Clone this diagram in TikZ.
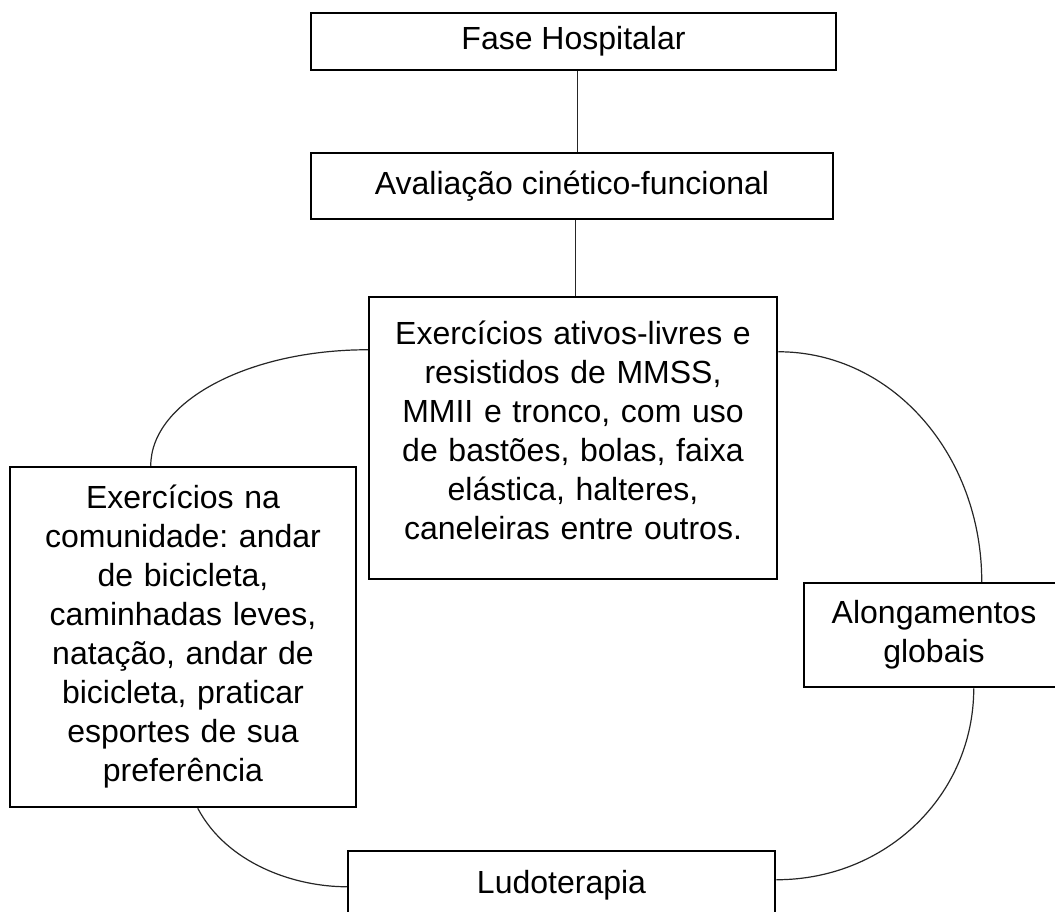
\documentclass[tikz,border=0pt]{standalone}
\usepackage{fontspec}
\setmainfont{Liberation Sans}
\usetikzlibrary{calc}
\frenchspacing
\begin{document}
\begin{tikzpicture}[x=0.5pt,y=-0.5pt,
  box/.style={draw=black,line width=1.25pt,rectangle,inner sep=0pt,align=center,
    font=\fontsize{16}{19.5}\selectfont},
  link/.style={draw=black!85,line width=0.6pt}]
\useasboundingbox (0,0) rectangle (1055,911);
\clip (0,0) rectangle (1055,911);
\node[box,minimum width=262.5pt,minimum height=28.5pt] (b1) at (573.5,41.5) {Fase Hospitalar};
\node[box,minimum width=261pt,minimum height=33pt] (b2) at (572,186) {Avaliação cinético-funcional};
\node[box,minimum width=204pt,minimum height=141pt,text width=200pt,text depth=105.5pt] (b3) at (573,438)
  {Exercícios ativos-livres e\\resistidos de MMSS,\\MMII e tronco, com uso\\de bastões, bolas, faixa\\elástica, halteres,\\caneleiras entre outros.};
\node[box,minimum width=173pt,minimum height=170pt,text width=170pt] (b4) at (183,637)
  {Exercícios na\\comunidade: andar\\de bicicleta,\\caminhadas leves,\\natação, andar de\\bicicleta, praticar\\esportes de sua\\preferência};
\node[box,minimum width=130pt,minimum height=52pt,text width=126pt] (b5) at (934,635)
  {Alongamentos\\globais};
\node[box,minimum width=213.5pt,minimum height=34.5pt] (b6) at (561.5,885.5) {Ludoterapia};
% straight connectors
\draw[link] ($(b1.south west)+(268,0)$) -- ($(b2.north west)+(268,0)$);
\draw[link] ($(b2.south west)+(266,0)$) -- ($(b3.north west)+(208,0)$);
% curved connectors
\draw[link] ($(b3.north west)+(0,54)$) .. controls +(-120,0) and +(0,-64) .. ($(b4.north west)+(142,0)$);
\draw[link] ($(b3.north east)+(0,56)$) .. controls +(114,0) and +(0,-127) .. ($(b5.north west)+(179,0)$);
\draw[link] ($(b5.south west)+(171,0)$) .. controls +(0,107) and +(110,0) .. ($(b6.north east)+(0,30)$);
\draw[link] ($(b4.south west)+(189,0)$) .. controls +(29,55) and +(-53,0) .. ($(b6.north west)+(0,37)$);
\end{tikzpicture}
\end{document}
